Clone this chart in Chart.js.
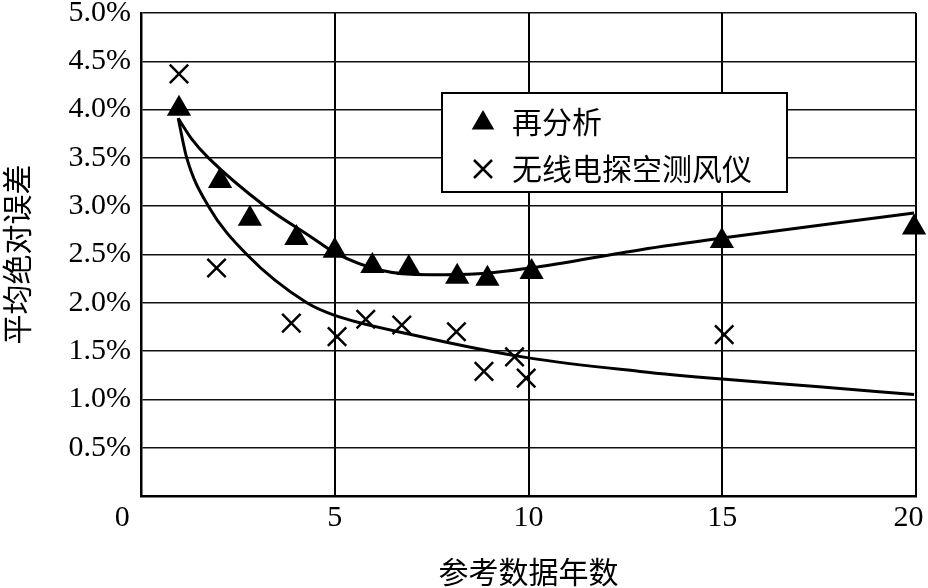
<!DOCTYPE html>
<html>
<head>
<meta charset="utf-8">
<script src="https://cdn.jsdelivr.net/npm/chart.js@4.4.1/dist/chart.umd.min.js"></script>
<style>
  html, body { margin: 0; padding: 0; background: #fff; }
  #wrap { width: 928px; height: 588px; }
</style>
</head>
<body>
<div id="wrap"><canvas id="chart" width="928" height="588"></canvas></div>
<script>
// values (y in %)
var reanX = [0.98, 2.04, 2.81, 4.01, 5.0, 5.97, 6.91, 8.16, 8.94, 10.08, 14.99, 19.95];
var reanY = [4.01, 3.26, 2.87, 2.67, 2.54, 2.38, 2.36, 2.27, 2.25, 2.32, 2.64, 2.78];

var sondeX = [0.98, 1.95, 3.88, 5.06, 5.80, 6.73, 8.14, 8.85, 9.64, 9.94, 15.05];
var sondeY = [4.37, 2.36, 1.79, 1.65, 1.83, 1.77, 1.70, 1.29, 1.44, 1.22, 1.67];

// fitted curves
var reanFitX = [0.96, 1.3, 1.74, 3.2, 4.36, 5.0, 6.16, 7.45, 8.7, 10.05, 12.9, 15.0, 19.95];
var reanFitY = [3.91, 3.70, 3.50, 3.00, 2.69, 2.52, 2.34, 2.29, 2.30, 2.36, 2.55, 2.67, 2.93];

var sondeFitX = [0.96, 1.18, 1.74, 2.73, 4.28, 5.0, 7.0, 10.0, 12.88, 15.0, 17.5, 19.95];
var sondeFitY = [3.91, 3.50, 3.00, 2.50, 2.00, 1.87, 1.67, 1.43, 1.29, 1.21, 1.13, 1.05];

var labels = ["再分析", "无线电探空测风仪"];
var xTitle = "参考数据年数";
var yTitle = "平均绝对误差";

function pts(xs, ys) {
  var out = [];
  for (let i = 0; i < xs.length; i++) out.push({ x: xs[i], y: ys[i] });
  return out;
}

var serif = "'Liberation Serif', 'DejaVu Serif', serif";
var cjk = "'Noto Sans CJK SC', sans-serif";

// legend drawn as a framed box inside the plot
var boxLegend = {
  id: "boxLegend",
  afterDraw: function (chart) {
    var ctx = chart.ctx;
    var ca = chart.chartArea;
    var left = ca.left + 301, top = ca.top + 80, w = 345, h = 99;
    ctx.save();
    ctx.fillStyle = "#fff";
    ctx.fillRect(left, top, w, h);
    ctx.strokeStyle = "#000";
    ctx.lineWidth = 2;
    ctx.strokeRect(left, top, w, h);

    var mx = left + 41;
    // triangle
    var r = 13, cy = top + 30;
    ctx.fillStyle = "#000";
    ctx.beginPath();
    ctx.moveTo(mx, cy - r);
    ctx.lineTo(mx + r * 0.866, cy + r / 2);
    ctx.lineTo(mx - r * 0.866, cy + r / 2);
    ctx.closePath();
    ctx.fill();
    // cross
    var c = 9, cy2 = top + 76;
    ctx.lineWidth = 2.5;
    ctx.beginPath();
    ctx.moveTo(mx - c, cy2 - c); ctx.lineTo(mx + c, cy2 + c);
    ctx.moveTo(mx + c, cy2 - c); ctx.lineTo(mx - c, cy2 + c);
    ctx.stroke();

    ctx.font = "30px " + cjk;
    ctx.textBaseline = "middle";
    ctx.textAlign = "left";
    ctx.fillText(labels[0], left + 70, top + 29);
    ctx.fillText(labels[1], left + 70, top + 76);
    ctx.restore();
  }
};

var config = {
  type: "scatter",
  data: {
    datasets: [
      {
        label: labels[0],
        data: pts(reanX, reanY),
        pointStyle: "triangle",
        pointRadius: 14,
        pointHoverRadius: 14,
        backgroundColor: "#000",
        borderColor: "#000",
        borderWidth: 0,
        clip: false
      },
      {
        label: labels[1],
        data: pts(sondeX, sondeY),
        pointStyle: "crossRot",
        pointRadius: 13,
        pointHoverRadius: 13,
        borderColor: "#000",
        borderWidth: 2.5,
        clip: false
      },
      {
        label: "fit1",
        data: pts(reanFitX, reanFitY),
        showLine: true,
        pointRadius: 0,
        borderColor: "#000",
        borderWidth: 3,
        cubicInterpolationMode: "monotone",
        clip: false
      },
      {
        label: "fit2",
        data: pts(sondeFitX, sondeFitY),
        showLine: true,
        pointRadius: 0,
        borderColor: "#000",
        borderWidth: 3,
        cubicInterpolationMode: "monotone",
        clip: false
      }
    ]
  },
  options: {
    responsive: false,
    animation: false,
    events: [],
    layout: { autoPadding: false, padding: { top: 13, right: 12, left: 0, bottom: 0 } },
    plugins: {
      legend: { display: false },
      tooltip: { enabled: false }
    },
    scales: {
      x: {
        type: "linear",
        min: 0,
        max: 20,
        afterFit: function (s) {
          s.height = 92;
          s.paddingLeft = 0;
          s.paddingRight = 0;
        },
        ticks: {
          stepSize: 5,
          color: "#000",
          padding: 4,
          font: { family: serif, size: 30 },
          callback: function (v) {
            if (v === 0) return "0     ";
            if (v === 20) return "20  ";
            return String(v);
          }
        },
        grid: { color: "#000", lineWidth: 2, drawTicks: false },
        border: { display: true, color: "#000", width: 2.5 },
        title: {
          display: true,
          text: xTitle,
          color: "#000",
          font: { family: cjk, size: 30, lineHeight: 1 },
          padding: { top: 0, bottom: 1 }
        }
      },
      y: {
        min: 0,
        max: 5,
        afterFit: function (s) {
          s.width = 141;
          s.paddingTop = 0;
          s.paddingBottom = 0;
        },
        ticks: {
          stepSize: 0.5,
          color: "#000",
          padding: 10,
          font: { family: serif, size: 30 },
          callback: function (v) { return v === 0 ? "" : v.toFixed(1) + "%"; }
        },
        grid: { color: "#111", lineWidth: 1.5, drawTicks: false },
        border: { display: true, color: "#000", width: 2.5 },
        title: {
          display: true,
          text: yTitle,
          color: "#000",
          font: { family: cjk, size: 30, lineHeight: 1 },
          padding: { top: 2, bottom: 0 }
        }
      }
    }
  },
  plugins: [boxLegend]
};

var chart = new Chart(document.getElementById("chart"), config);
</script>
</body>
</html>
